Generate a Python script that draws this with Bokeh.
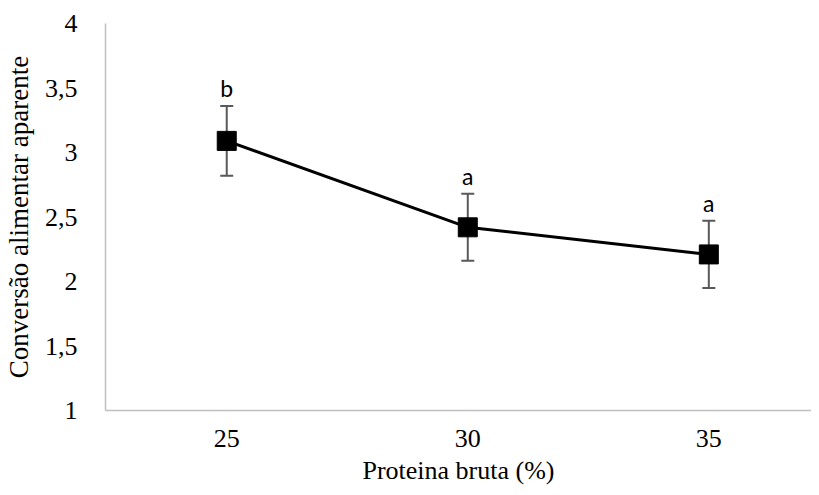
from bokeh.plotting import figure
from bokeh.models import ColumnDataSource, FixedTicker, Whisker, TeeHead, Range1d
from bokeh.core.properties import value
from bokeh.embed import file_html
from bokeh.resources import INLINE

# Data
protein = [25, 30, 35]
conversion = [3.09, 2.42, 2.21]
error = [0.27, 0.26, 0.26]
letters = ["b", "a", "a"]
y_ticks = [1, 1.5, 2, 2.5, 3, 3.5, 4]
y_tick_labels = ["1", "1,5", "2", "2,5", "3", "3,5", "4"]

upper = [c + e for c, e in zip(conversion, error)]
lower = [c - e for c, e in zip(conversion, error)]
src = ColumnDataSource(dict(x=protein, y=conversion, upper=upper, lower=lower, lab=letters))

p = figure(width=811, height=493, output_backend="svg", toolbar_location=None,
           x_range=Range1d(22.485, 37.13), y_range=Range1d(1, 4),
           min_border_left=101, min_border_right=0, min_border_top=23, min_border_bottom=83)
p.outline_line_color = None
p.xgrid.visible = False
p.ygrid.visible = False
p.background_fill_color = "white"
p.border_fill_color = "white"

axis_color = "#bfbfbf"
for ax in (p.xaxis[0], p.yaxis[0]):
    ax.axis_line_color = axis_color
    ax.axis_line_width = 1.5
    ax.major_tick_line_color = None
    ax.minor_tick_line_color = None
    ax.major_tick_in = 0
    ax.major_tick_out = 0
    ax.minor_tick_in = 0
    ax.minor_tick_out = 0
    ax.major_label_text_font = "Liberation Serif"
    ax.major_label_text_font_size = "26px"
    ax.major_label_text_color = "#000000"
    ax.axis_label_text_font = "Liberation Serif"
    ax.axis_label_text_font_size = "26px"
    ax.axis_label_text_font_style = "normal"
    ax.axis_label_text_color = "#000000"

p.xaxis.ticker = FixedTicker(ticks=protein)
p.xaxis.major_label_standoff = 19
p.xaxis.axis_label = "Proteina bruta (%)"
p.xaxis.axis_label_standoff = 6

p.yaxis.ticker = FixedTicker(ticks=y_ticks)
p.yaxis.major_label_overrides = {t: l for t, l in zip(y_ticks, y_tick_labels)}
p.yaxis.major_label_standoff = 28
p.yaxis.axis_label = "Conversão alimentar aparente"
p.yaxis.axis_label_text_font_size = "27px"
p.yaxis.axis_label_standoff = 8

w = Whisker(source=src, base="x", upper="upper", lower="lower",
            line_color="#595959", line_width=2, level="underlay",
            upper_head=TeeHead(size=13, line_color="#595959", line_width=2),
            lower_head=TeeHead(size=13, line_color="#595959", line_width=2))
p.add_layout(w)

p.line("x", "y", source=src, line_color="black", line_width=3)
p.scatter("x", "y", source=src, marker="square", size=19, fill_color="black", line_color="black")
p.text("x", "upper", text="lab", source=src, text_font=value("Lato"), text_font_size="23px",
       text_align="center", text_baseline="bottom", y_offset=-4, text_color="#000000")

open("out.html", "w").write(file_html(p, INLINE))
